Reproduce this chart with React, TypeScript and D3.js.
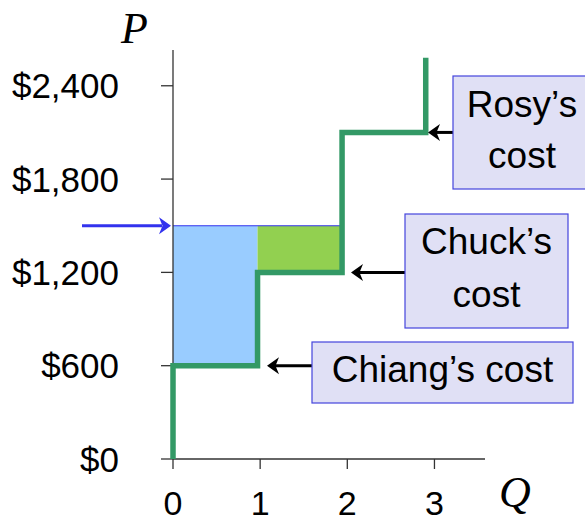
import React from "react";
import * as d3 from "d3";

const xTicks = [0, 1, 2, 3];
const yTicks = [0, 600, 1200, 1800, 2400];
const stepQ = [0, 0.97, 1.94, 2.9];
const stepCost = [600, 1200, 2100];
const curveTop = 2580;
const marketPrice = 1500;
const sellers = ["Chiang", "Chuck", "Rosy"];
const labelLines = [["Chiang\u2019s cost"], ["Chuck\u2019s", "cost"], ["Rosy\u2019s", "cost"]];

const W = 585;
const H = 521;
const sans = "'Liberation Sans', Arial, sans-serif";
const serif = "'Liberation Serif', 'Times New Roman', serif";

function arrowHead(tipX: number, cy: number, dir: number, fill: string) {
  // dir: -1 points left, +1 points right
  const L = 12, h = 8.5, notch = 3.5;
  const bx = tipX - dir * L;
  const d = `M${tipX},${cy} L${bx},${cy - h} L${bx + dir * notch},${cy} L${bx},${cy + h} Z`;
  return <path d={d} fill={fill} />;
}

export default function App() {
  const x = d3.scaleLinear().domain([0, 3.58]).range([173, 485]);
  const y = d3.scaleLinear().domain([0, 2630]).range([459, 50]);

  const pts: [number, number][] = [[stepQ[0], 0]];
  stepCost.forEach((c, i) => {
    pts.push([stepQ[i], c]);
    pts.push([stepQ[i + 1], c]);
  });
  pts.push([stepQ[3], curveTop]);
  const line = d3.line<[number, number]>().x((d) => x(d[0])).y((d) => y(d[1]));

  const boxes = [
    { x0: 312, x1: 573, y0: 342, y1: 403, tip: 267, baselines: [382] },
    { x0: 405, x1: 568, y0: 214, y1: 328, tip: 351, baselines: [254, 307] },
    { x0: 453, x1: 591, y0: 76, y1: 189, tip: 428, baselines: [117, 168] },
  ];

  const green = "#339966";
  const blueLine = "#3333ee";
  const py = y(marketPrice);

  return (
    <svg width={W} height={H} style={{ position: "absolute", left: 0, top: 0 }}>
      <rect x={0} y={0} width={W} height={H} fill="#fff" />

      <rect x={x(stepQ[0])} y={py} width={x(stepQ[1]) - x(stepQ[0])} height={y(stepCost[0]) - py} fill="#99ccff" />
      <rect x={x(stepQ[1])} y={py} width={x(stepQ[2]) - x(stepQ[1])} height={y(stepCost[1]) - py} fill="#92d050" />
      <line x1={x(0)} x2={x(stepQ[2])} y1={py} y2={py} stroke={blueLine} strokeWidth={1.2} />

      <line x1={x(0)} x2={x(0)} y1={y(0)} y2={50} stroke="#333" strokeWidth={1.3} />
      <line x1={x(0)} x2={485} y1={y(0)} y2={y(0)} stroke="#333" strokeWidth={1.3} />
      {yTicks.map((t) => (
        <g key={"y" + t}>
          <line x1={x(0) - 12} x2={x(0)} y1={y(t)} y2={y(t)} stroke="#333" strokeWidth={1.3} />
          <text x={119} y={y(t)} dy="0.36em" textAnchor="end" fontFamily={sans} fontSize={35} fill="#000">
            {d3.format("$,")(t)}
          </text>
        </g>
      ))}
      {xTicks.map((t) => (
        <g key={"x" + t}>
          <line x1={x(t)} x2={x(t)} y1={y(0)} y2={y(0) + 10} stroke="#333" strokeWidth={1.3} />
          <text x={x(t)} y={515} textAnchor="middle" fontFamily={sans} fontSize={34} fill="#000">
            {t}
          </text>
        </g>
      ))}
      <text x={121} y={43} fontFamily={serif} fontStyle="italic" fontSize={44} fill="#000">P</text>
      <text x={499} y={507} fontFamily={serif} fontStyle="italic" fontSize={44} fill="#000">Q</text>

      <line x1={82} x2={162} y1={py} y2={py} stroke={blueLine} strokeWidth={3} />
      {arrowHead(171, py, 1, blueLine)}

      <path d={line(pts) || ""} fill="none" stroke={green} strokeWidth={5.5} strokeLinejoin="miter" strokeLinecap="butt" />

      {sellers.map((s, i) => {
        const b = boxes[i];
        const cy = y(stepCost[i]);
        return (
          <g key={s}>
            <line x1={b.x0} x2={b.tip + 8} y1={cy} y2={cy} stroke="#000" strokeWidth={3} />
            {arrowHead(b.tip, cy, -1, "#000")}
            <rect x={b.x0} y={b.y0} width={b.x1 - b.x0} height={b.y1 - b.y0} fill="#e0e0f5" stroke="#4444dd" strokeWidth={1.2} />
            {labelLines[i].map((ln, j) => (
              <text key={j} x={(b.x0 + b.x1) / 2} y={b.baselines[j]} textAnchor="middle" fontFamily={sans} fontSize={37} fill="#000">
                {ln}
              </text>
            ))}
          </g>
        );
      })}
    </svg>
  );
}
